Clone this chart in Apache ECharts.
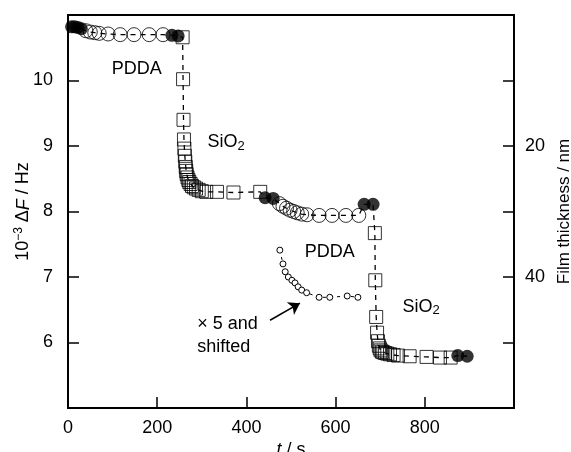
<!DOCTYPE html>
<html>
<head>
<meta charset="utf-8">
<script src="https://cdn.jsdelivr.net/npm/echarts@6/dist/echarts.min.js"></script>
<style>
html, body { margin: 0; padding: 0; background: #fff; }
#chart { width: 571px; height: 452px; }
</style>
</head>
<body>
<div id="chart"></div>
<script>
// t / s and 10^-3 dF / Hz, one pair of arrays per run of markers
const dot1T = [8, 15, 22, 30];
const dot1F = [10.82, 10.82, 10.81, 10.79];
const ring1T = [40, 50, 60, 70, 90, 117, 148, 182, 213];
const ring1F = [10.76, 10.74, 10.73, 10.72, 10.71, 10.70, 10.70, 10.70, 10.70];
const dot2T = [233, 247];
const dot2F = [10.69, 10.68];
const box1T = [257, 258, 259, 260, 261, 262, 263, 264, 265, 266, 268, 270, 272, 275, 278, 282, 287, 293, 300, 310, 334, 371, 431];
const box1F = [10.66, 10.02, 9.40, 9.10, 8.96, 8.85, 8.76, 8.68, 8.62, 8.57, 8.52, 8.48, 8.45, 8.42, 8.39, 8.37, 8.35, 8.33, 8.31, 8.30, 8.30, 8.29, 8.30];
const dot3T = [442, 460];
const dot3F = [8.21, 8.20];
const ring2T = [474, 482, 490, 498, 506, 514, 524, 536, 563, 592, 623, 652];
const ring2F = [8.12, 8.08, 8.05, 8.02, 8.00, 7.98, 7.96, 7.95, 7.94, 7.94, 7.94, 7.94];
const dot4T = [664, 684];
const dot4F = [8.11, 8.11];
const box2T = [688, 689, 691, 693, 695, 697, 699, 701, 704, 707, 711, 716, 722, 730, 740, 766, 804, 834, 858];
const box2F = [7.67, 6.95, 6.39, 6.15, 6.02, 5.95, 5.91, 5.88, 5.86, 5.85, 5.84, 5.83, 5.82, 5.81, 5.80, 5.79, 5.78, 5.77, 5.77];
const dot5T = [874, 895];
const dot5F = [5.80, 5.79];
// x5 and shifted
const smallT = [475, 482, 487, 494, 502, 509, 516, 524, 535, 563, 587, 626, 650];
const smallF = [7.41, 7.20, 7.08, 7.00, 6.95, 6.91, 6.85, 6.80, 6.76, 6.69, 6.69, 6.71, 6.69];

const xTicks = [0, 200, 400, 600, 800];
const yTicks = [6, 7, 8, 9, 10];
const thickTicks = [20, 40];

const font = 'Liberation Sans, Arial, sans-serif';
const fs = 18;
const pair = (t, f) => t.map((v, i) => [v, f[i]]);

const dots = [].concat(pair(dot1T, dot1F), pair(dot2T, dot2F), pair(dot3T, dot3F), pair(dot4T, dot4F), pair(dot5T, dot5F));
const rings = [].concat(pair(ring1T, ring1F), pair(ring2T, ring2F));
const boxes = [].concat(pair(box1T, box1F), pair(box2T, box2F));
const trace = [].concat(
  pair(dot1T, dot1F), pair(ring1T, ring1F), pair(dot2T, dot2F), pair(box1T, box1F),
  pair(dot3T, dot3F), pair(ring2T, ring2F), pair(dot4T, dot4F), pair(box2T, box2F), pair(dot5T, dot5F)
);
const small = pair(smallT, smallF);

const axisStyle = { lineStyle: { color: '#000', width: 1.8 } };
const tickStyle = { inside: true, length: 11, lineStyle: { color: '#000', width: 1.5 } };
const labelBase = { color: '#000', fontSize: fs, fontFamily: font };

const chart = echarts.init(document.getElementById('chart'));
const option = {
  animation: false,
  backgroundColor: '#fff',
  grid: {
    left: 68, right: 57, top: 15, bottom: 44, outerBoundsMode: 'none', containLabel: false,
    show: true, borderColor: '#000', borderWidth: 1.8, backgroundColor: 'transparent',
  },
  xAxis: {
    type: 'value', min: 0, max: 1000, interval: 200,
    axisLine: Object.assign({ onZero: false }, axisStyle),
    axisTick: tickStyle,
    splitLine: { show: false },
    axisLabel: Object.assign({ margin: 11, formatter: v => (xTicks.includes(v) ? String(v) : '') }, labelBase),
    name: '{i|t}{n| / s}', nameLocation: 'middle', nameGap: 33, nameMoveOverlap: false,
    nameTextStyle: { rich: { i: { fontStyle: 'italic', fontSize: fs, fontFamily: font, color: '#000' }, n: { fontSize: fs, fontFamily: font, color: '#000' } } },
  },
  yAxis: [
    {
      type: 'value', min: 5, max: 11, interval: 1, position: 'left',
      axisLine: Object.assign({ onZero: false }, axisStyle),
      axisTick: tickStyle,
      splitLine: { show: false },
      axisLabel: Object.assign({ margin: 15, formatter: v => (yTicks.includes(v) ? String(v) : '') }, labelBase),
      name: '{n|10}{s|\u22123}{n| \u0394}{i|F}{n| / Hz}', nameLocation: 'middle', nameGap: 34, nameRotate: 90,
      nameMoveOverlap: false,
      nameTextStyle: {
        rich: {
          n: { fontSize: fs, fontFamily: font, color: '#000' },
          s: { fontSize: 12, fontFamily: font, color: '#000', padding: [0, 0, 9, 0] },
          i: { fontSize: fs, fontFamily: font, color: '#000', fontStyle: 'italic' },
        },
      },
    },
    {
      type: 'value', min: 0, max: 60, interval: 10, position: 'right', inverse: true,
      axisLine: Object.assign({ onZero: false }, axisStyle),
      axisTick: tickStyle,
      splitLine: { show: false },
      axisLabel: Object.assign({ margin: 11, formatter: v => (thickTicks.includes(v) ? String(v) : '') }, labelBase),
      name: 'Film thickness / nm', nameLocation: 'middle', nameGap: 40, nameRotate: 90,
      nameTextStyle: { fontSize: 17, fontFamily: font, color: '#000' },
    },
  ],
  series: [
    {
      type: 'line', data: trace, showSymbol: false, symbol: 'none', z: 1,
      lineStyle: { color: '#000', width: 1.3, type: [5, 5] },
    },
    {
      type: 'line', data: small, symbol: 'circle', symbolSize: 6, z: 2,
      lineStyle: { color: '#000', width: 1, type: [3, 4] },
      itemStyle: { color: '#fff', borderColor: '#000', borderWidth: 1 },
      markLine: {
        silent: true, symbol: ['none', 'arrow'], symbolSize: 11,
        lineStyle: { color: '#000', width: 1.5, type: 'solid' },
        itemStyle: { color: '#000' },
        label: { show: false },
        data: [[{ coord: [453, 6.34] }, { coord: [520, 6.60] }]],
      },
      markPoint: {
        symbol: 'circle', symbolSize: 1, silent: true,
        itemStyle: { color: 'transparent' },
        label: {
          show: true, position: [0, 0], align: 'left', verticalAlign: 'middle',
          color: '#000', fontSize: fs, fontFamily: font, lineHeight: 23,
          rich: {
            n: { fontSize: fs, fontFamily: font, color: '#000' },
            b: { fontSize: 13, fontFamily: font, color: '#000', padding: [8, 0, 0, 0] },
          },
        },
        data: [
          { coord: [99, 10.16], label: { formatter: 'PDDA' } },
          { coord: [314, 9.05], label: { formatter: '{n|SiO}{b|2}' } },
          { coord: [532, 7.37], label: { formatter: 'PDDA' } },
          { coord: [751, 6.54], label: { formatter: '{n|SiO}{b|2}' } },
          { coord: [291, 6.1], label: { formatter: '\u00d7 5 and\nshifted' } },
        ],
      },
    },
    {
      type: 'scatter', data: rings, symbol: 'circle', symbolSize: 14, z: 3,
      itemStyle: { color: 'transparent', borderColor: '#000', borderWidth: 1 },
    },
    {
      type: 'scatter', data: boxes, symbol: 'rect', symbolSize: 13, z: 3,
      itemStyle: { color: 'transparent', borderColor: '#000', borderWidth: 1 },
    },
    {
      type: 'scatter', data: dots, symbol: 'circle', symbolSize: 13, z: 4,
      itemStyle: { color: '#000', borderColor: '#000', borderWidth: 0 },
    },
  ],
};
chart.setOption(option);
window.addEventListener('resize', () => {
  chart.resize();
});
</script>
</body>
</html>
